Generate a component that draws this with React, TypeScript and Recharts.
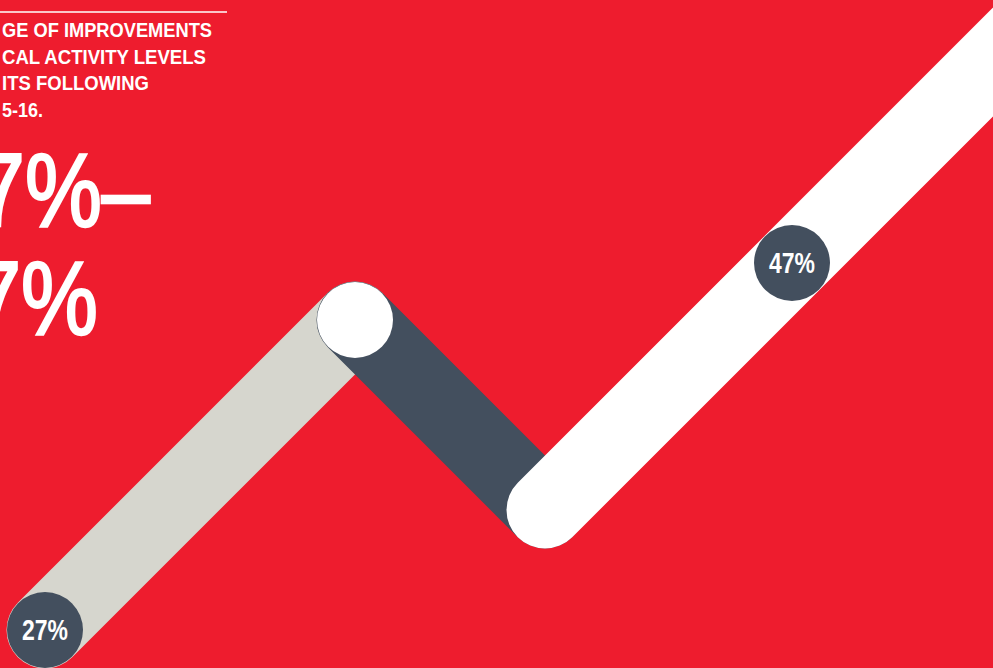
import React from 'react'
import { ComposedChart, Line, XAxis, YAxis } from 'recharts'

const W = 993
const H = 668

// zigzag path: start (27%) -> peak -> trough -> up through 47% and off the page
const pathX = [45, 355, 545, 1080]
const pathY = [38, 348, 158, 693]
const segmentColors = ['#D6D6CE', '#434F5E', '#FFFFFF']

// labelled markers sitting on the path
const markerX = [45, 792]
const markerY = [38, 405]
const markerLabels = ['27%', '47%']

const titleLines = ['GE OF IMPROVEMENTS', 'CAL ACTIVITY LEVELS', 'ITS FOLLOWING', '5-16.']
const titleWidths = [210, 204, 147, 41]
const bigLines = ['27%–', '47%']

const RED = '#EE1C2E'
const SLATE = '#434F5E'
const FONT = '"Liberation Sans", Arial, sans-serif'

const segments = segmentColors.map((color, i) => ({
  color,
  data: [
    { x: pathX[i], y: pathY[i] },
    { x: pathX[i + 1], y: pathY[i + 1] },
  ],
}))

const peak = [{ x: pathX[1], y: pathY[1] }]
const markers = markerX.map((x, i) => ({ x, y: markerY[i], label: markerLabels[i] }))

function renderMarker(p: any) {
  const { cx, cy, payload, index } = p
  return (
    <g key={`m-${index}`}>
      <circle cx={cx} cy={cy} r={38} fill={SLATE} />
      <text
        x={cx - 23}
        y={cy + 10}
        fill="#fff"
        fontFamily={FONT}
        fontWeight={700}
        fontSize={29}
        textLength={46}
        lengthAdjust="spacingAndGlyphs"
      >
        {payload.label}
      </text>
    </g>
  )
}

function renderPeak(p: any) {
  return <circle key="peak" cx={p.cx} cy={p.cy} r={38} fill="#fff" />
}

export default function App() {
  return (
    <div
      style={{
        position: 'fixed',
        left: 0,
        top: 0,
        width: W,
        height: H,
        overflow: 'hidden',
        background: RED,
      }}
    >
      <ComposedChart width={W} height={H} margin={{ top: 0, right: 0, bottom: 0, left: 0 }}>
        <XAxis type="number" dataKey="x" domain={[0, W]} allowDataOverflow hide />
        <YAxis type="number" dataKey="y" domain={[0, H]} allowDataOverflow hide />
        {segments.map((s, i) => (
          <Line
            key={i}
            data={s.data}
            dataKey="y"
            type="linear"
            stroke={s.color}
            strokeWidth={77}
            strokeLinecap="round"
            dot={false}
            activeDot={false}
            isAnimationActive={false}
          />
        ))}
        <Line
          data={peak}
          dataKey="y"
          stroke="none"
          dot={renderPeak}
          activeDot={false}
          isAnimationActive={false}
        />
        <Line
          data={markers}
          dataKey="y"
          stroke="none"
          dot={renderMarker}
          activeDot={false}
          isAnimationActive={false}
        />
      </ComposedChart>

      <svg
        width={W}
        height={H}
        style={{ position: 'absolute', left: 0, top: 0, pointerEvents: 'none' }}
      >
        <line x1={0} y1={12} x2={227} y2={12} stroke="#fff" strokeWidth={1.5} />
        {titleLines.map((t, i) => (
          <text
            key={t}
            x={2}
            y={37 + i * 26.5}
            fill="#fff"
            fontFamily={FONT}
            fontWeight={700}
            fontSize={21}
            textLength={titleWidths[i]}
            lengthAdjust="spacingAndGlyphs"
          >
            {t}
          </text>
        ))}
        <g transform="translate(150,0) scale(0.84,1)">
          <text
            x={0}
            y={226}
            textAnchor="end"
            fill="#fff"
            stroke="#fff"
            strokeWidth={2.5}
            fontFamily={FONT}
            fontWeight={400}
            fontSize={103}
          >
            {bigLines[0]}
          </text>
        </g>
        <g transform="translate(98,0) scale(0.84,1)">
          <text
            x={0}
            y={334}
            textAnchor="end"
            fill="#fff"
            stroke="#fff"
            strokeWidth={2.5}
            fontFamily={FONT}
            fontWeight={400}
            fontSize={103}
          >
            {bigLines[1]}
          </text>
        </g>
      </svg>
    </div>
  )
}
